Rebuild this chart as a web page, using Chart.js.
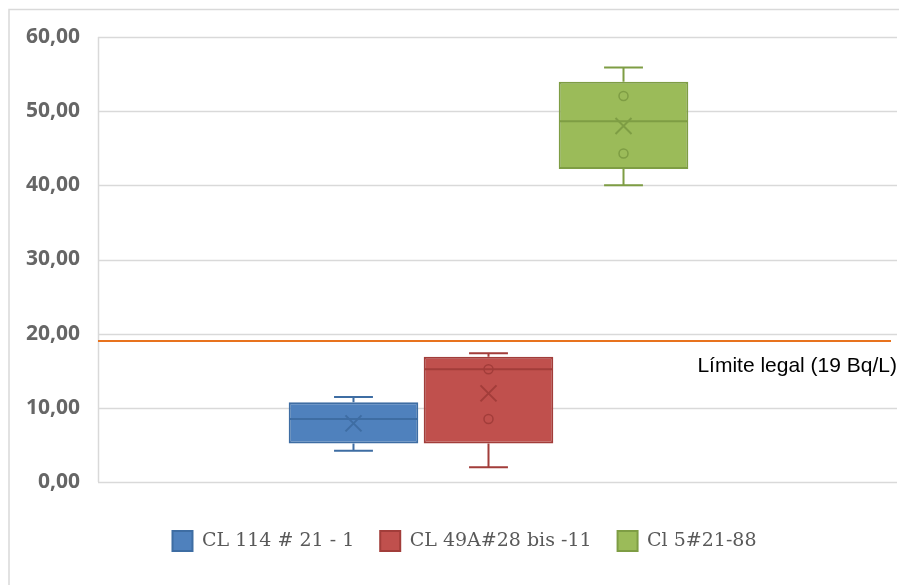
<!DOCTYPE html>
<html>
<head>
<meta charset="utf-8">
<script src="https://cdn.jsdelivr.net/npm/chart.js@4.4.1/dist/chart.umd.min.js"></script>
<style>
  html, body { margin: 0; padding: 0; background: #ffffff; }
  canvas { display: block; }
</style>
</head>
<body>
<canvas id="c" width="899" height="585"></canvas>
<script>
// Radon concentration per well (Bq/L): box-and-whisker summaries
const seriesNames = ['CL 114 # 21 - 1', 'CL 49A#28 bis -11', 'Cl 5#21-88'];
const minVals    = [4.2, 2.0, 40.0];
const q1Vals     = [5.2, 5.2, 42.2];
const medianVals = [8.5, 15.2, 48.65];
const q3Vals     = [10.75, 16.9, 53.95];
const maxVals    = [11.45, 17.35, 55.9];
const meanVals   = [7.9, 11.95, 48.0];
const innerPoints = [[], [15.2, 8.5], [52.05, 44.3]];

const yTicks = [0, 10, 20, 30, 40, 50, 60];
const LIMIT = 19;
const limitLabel = 'Límite legal (19 Bq/L)';

const fills   = ['#4F81BD', '#C0504D', '#9BBB59'];
const strokes = ['#3E6DA3', '#A23D3A', '#7E9D44'];

const datasets = seriesNames.map((name, i) => ({
  label: name,
  data: [[q1Vals[i], q3Vals[i]]],
  backgroundColor: fills[i],
  borderColor: strokes[i],
  borderWidth: 2,
  borderSkipped: false,
  categoryPercentage: 0.5186,
  barPercentage: 0.96
}));

const fmt = v => v.toFixed(2).replace('.', ',');

// frame, gridlines and axis line behind the boxes
const backdrop = {
  id: 'backdrop',
  afterLayout(chart) {
    // centre the legend row under the plot rather than the full canvas
    const lg = chart.legend;
    if (lg) { lg.left += 25; lg.right += 25; }
  },
  beforeDatasetsDraw(chart) {
    const { ctx, chartArea: a, scales: { y } } = chart;
    ctx.save();
    ctx.strokeStyle = '#d9d9d9';
    ctx.lineWidth = 1.5;
    // outer chart frame (left and top edges)
    ctx.beginPath();
    ctx.moveTo(9, 585); ctx.lineTo(9, 9.5); ctx.lineTo(899, 9.5);
    ctx.stroke();
    // horizontal gridlines
    yTicks.forEach(t => {
      const py = Math.round(y.getPixelForValue(t)) + 0.5;
      ctx.beginPath();
      ctx.moveTo(a.left, py);
      ctx.lineTo(897, py);
      ctx.stroke();
    });
    // vertical axis line
    ctx.beginPath();
    ctx.moveTo(a.left + 0.5, y.getPixelForValue(60));
    ctx.lineTo(a.left + 0.5, y.getPixelForValue(0));
    ctx.stroke();
    ctx.restore();
  }
};

// whiskers, medians, means and inner points on top of each box
const boxExtras = {
  id: 'boxExtras',
  afterDatasetsDraw(chart) {
    const { ctx, scales: { y } } = chart;
    ctx.save();
    seriesNames.forEach((_, i) => {
      const bar = chart.getDatasetMeta(i).data[0];
      const cx = bar.x;
      const w = bar.width;
      const half = w / 2 - 1;
      const cap = w * 0.15;
      ctx.strokeStyle = strokes[i];
      ctx.lineWidth = 2;
      const yMin = y.getPixelForValue(minVals[i]);
      const yQ1 = y.getPixelForValue(q1Vals[i]);
      const yQ3 = y.getPixelForValue(q3Vals[i]);
      const yMax = y.getPixelForValue(maxVals[i]);
      const yMed = y.getPixelForValue(medianVals[i]);
      // whiskers
      ctx.beginPath();
      ctx.moveTo(cx, yQ3); ctx.lineTo(cx, yMax);
      ctx.moveTo(cx - cap, yMax); ctx.lineTo(cx + cap, yMax);
      ctx.moveTo(cx, yQ1); ctx.lineTo(cx, yMin);
      ctx.moveTo(cx - cap, yMin); ctx.lineTo(cx + cap, yMin);
      ctx.stroke();
      // median
      ctx.beginPath();
      ctx.moveTo(cx - half, yMed); ctx.lineTo(cx + half, yMed);
      ctx.stroke();
      // mean marker (x)
      const ym = y.getPixelForValue(meanVals[i]);
      const s = 8;
      ctx.beginPath();
      ctx.moveTo(cx - s, ym - s); ctx.lineTo(cx + s, ym + s);
      ctx.moveTo(cx + s, ym - s); ctx.lineTo(cx - s, ym + s);
      ctx.stroke();
      // inner points
      ctx.lineWidth = 1.5;
      innerPoints[i].forEach(v => {
        ctx.beginPath();
        ctx.arc(cx, y.getPixelForValue(v), 4.5, 0, Math.PI * 2);
        ctx.stroke();
      });
    });
    ctx.restore();
  },
  afterDraw(chart) {
    const { ctx, chartArea: a, scales: { y } } = chart;
    const ly = y.getPixelForValue(LIMIT);
    ctx.save();
    ctx.strokeStyle = '#E8731E';
    ctx.lineWidth = 2;
    ctx.beginPath();
    ctx.moveTo(a.left, ly);
    ctx.lineTo(891, ly);
    ctx.stroke();
    ctx.fillStyle = '#000000';
    ctx.font = '21px "Liberation Sans", Arial, sans-serif';
    ctx.textAlign = 'right';
    ctx.textBaseline = 'alphabetic';
    ctx.fillText(limitLabel, 897, ly + 31);
    ctx.restore();
  }
};

new Chart(document.getElementById('c'), {
  type: 'bar',
  data: { labels: [''], datasets },
  options: {
    responsive: false,
    devicePixelRatio: 1,
    animation: false,
    layout: { padding: { top: 37, left: 0, right: 20, bottom: 24 } },
    scales: {
      x: {
        display: true,
        grid: { display: false },
        border: { display: false },
        ticks: { display: false },
        afterFit(s) { s.height = 23; }
      },
      y: {
        min: 0,
        max: 60,
        afterBuildTicks(s) { s.ticks = yTicks.map(v => ({ value: v })); },
        grid: { display: false, drawTicks: false },
        border: { display: false },
        ticks: {
          padding: 18,
          color: '#666666',
          font: { family: '"Open Sans", sans-serif', size: 21, weight: 'bold' },
          callback: v => fmt(v)
        },
        afterFit(s) { s.width = 98; }
      }
    },
    plugins: {
      tooltip: { enabled: false },
      legend: {
        position: 'bottom',
        labels: {
          boxWidth: 20,
          boxHeight: 20,
          padding: 26,
          color: '#595959',
          font: { family: '"DejaVu Serif", serif', size: 19 }
        }
      }
    }
  },
  plugins: [backdrop, boxExtras]
});
</script>
</body>
</html>
